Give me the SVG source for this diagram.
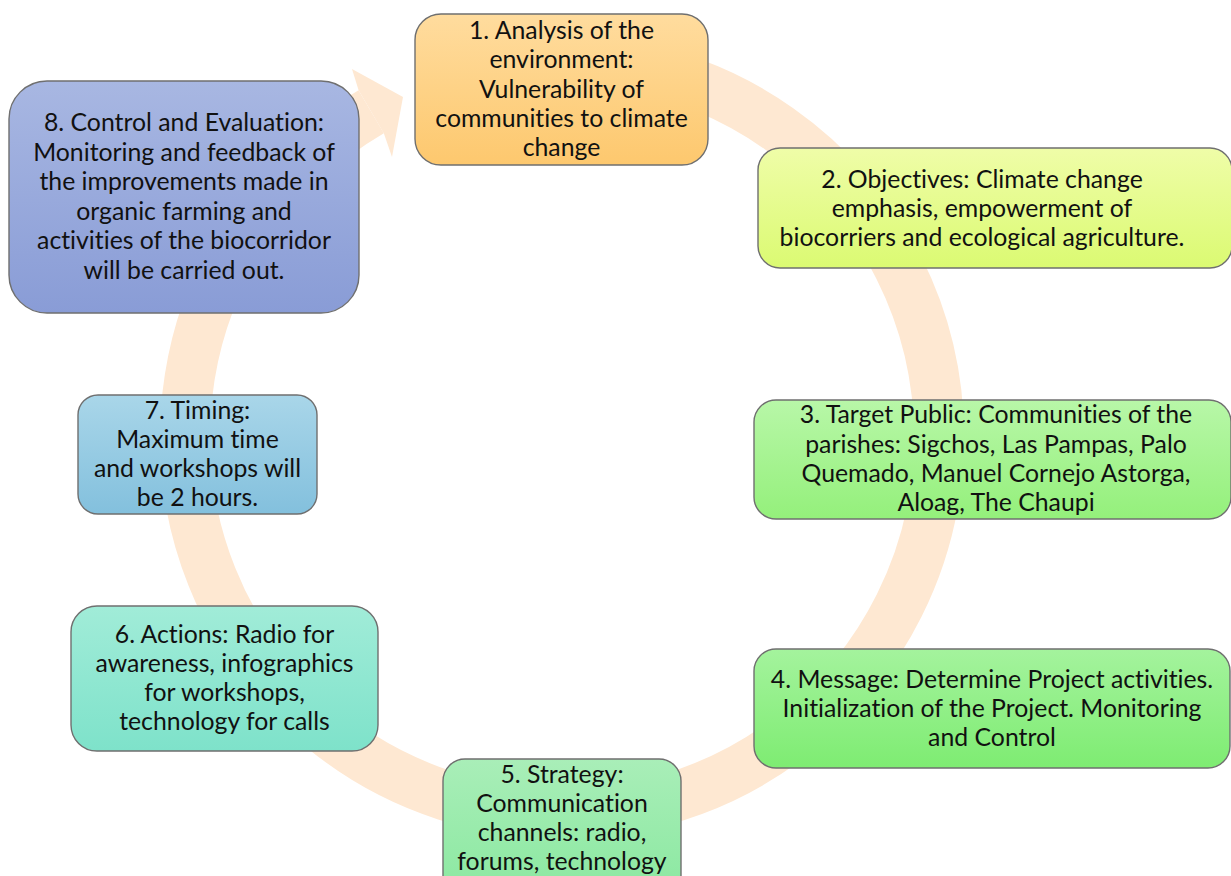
<svg xmlns="http://www.w3.org/2000/svg" width="1231" height="876" viewBox="0 0 1231 876">
  <defs>
    <linearGradient id="g1" x1="0" y1="0" x2="0" y2="1"><stop offset="0" stop-color="#FFDC9E"/><stop offset="1" stop-color="#FDC86E"/></linearGradient>
    <linearGradient id="g2" x1="0" y1="0" x2="0" y2="1"><stop offset="0" stop-color="#EFFDA8"/><stop offset="1" stop-color="#DBFA72"/></linearGradient>
    <linearGradient id="g3" x1="0" y1="0" x2="0" y2="1"><stop offset="0" stop-color="#B8F7A8"/><stop offset="1" stop-color="#94F07B"/></linearGradient>
    <linearGradient id="g4" x1="0" y1="0" x2="0" y2="1"><stop offset="0" stop-color="#A4F39D"/><stop offset="1" stop-color="#7EEC72"/></linearGradient>
    <linearGradient id="g5" x1="0" y1="0" x2="0" y2="1"><stop offset="0" stop-color="#A9EEB8"/><stop offset="1" stop-color="#8AE8A0"/></linearGradient>
    <linearGradient id="g6" x1="0" y1="0" x2="0" y2="1"><stop offset="0" stop-color="#A1ECD8"/><stop offset="1" stop-color="#7EE2CA"/></linearGradient>
    <linearGradient id="g7" x1="0" y1="0" x2="0" y2="1"><stop offset="0" stop-color="#A9D6E9"/><stop offset="1" stop-color="#83C0DD"/></linearGradient>
    <linearGradient id="g8" x1="0" y1="0" x2="0" y2="1"><stop offset="0" stop-color="#A8B7E2"/><stop offset="1" stop-color="#899CD6"/></linearGradient>
  </defs>
  <style>
    .box { stroke: #6F6F6F; stroke-width: 1.4; }
    .lbl { font-family: Lato, "Liberation Sans", sans-serif; font-size: 24.8px; fill: #111; text-anchor: middle; font-variant-ligatures: none; }
    .ring { fill: none; stroke: #FEE8D2; stroke-width: 50; }
    .head { fill: #FEE8D2; }
  </style>
  <rect width="1231" height="876" fill="#FFFFFF"/>

  <!-- circular cycle arrow behind the steps -->
  <g id="connectors">
    <path class="ring" d="M 627.5 65.7 A 377 377 0 1 1 371.2 111.8"/>
    <polygon class="head" points="358.6,90.3 352,69 403,97 392,157 383.9,133.4"/>
  </g>

  <g id="node1">
    <rect class="box" x="415" y="14" width="293" height="151" rx="26" fill="url(#g1)"/>
    <text class="lbl"><tspan x="561.5" y="39">1. Analysis of the</tspan><tspan x="561.5" y="68">environment:</tspan><tspan x="561.5" y="98">Vulnerability of</tspan><tspan x="561.5" y="127">communities to climate</tspan><tspan x="561.5" y="156">change</tspan></text>
  </g>

  <g id="node2">
    <rect class="box" x="758" y="148" width="474" height="120" rx="22" fill="url(#g2)"/>
    <text class="lbl"><tspan x="982" y="188">2. Objectives: Climate change</tspan><tspan x="982" y="217">emphasis, empowerment of</tspan><tspan x="982" y="246">biocorriers and ecological agriculture.</tspan></text>
  </g>

  <g id="node3">
    <rect class="box" x="754" y="400" width="477" height="119" rx="22" fill="url(#g3)"/>
    <text class="lbl"><tspan x="996" y="423">3. Target Public: Communities of the</tspan><tspan x="996" y="453">parishes: Sigchos, Las Pampas, Palo</tspan><tspan x="996" y="482">Quemado, Manuel Cornejo Astorga,</tspan><tspan x="996" y="511">Aloag, The Chaupi</tspan></text>
  </g>

  <g id="node4">
    <rect class="box" x="754" y="649" width="476" height="119" rx="22" fill="url(#g4)"/>
    <text class="lbl"><tspan x="992" y="688">4. Message: Determine Project activities.</tspan><tspan x="992" y="717">Initialization of the Project. Monitoring</tspan><tspan x="992" y="746">and Control</tspan></text>
  </g>

  <g id="node5">
    <rect class="box" x="443" y="759" width="238" height="140" rx="22" fill="url(#g5)"/>
    <text class="lbl"><tspan x="562" y="783">5. Strategy:</tspan><tspan x="562" y="812">Communication</tspan><tspan x="562" y="841">channels: radio,</tspan><tspan x="562" y="870">forums, technology</tspan></text>
  </g>

  <g id="node6">
    <rect class="box" x="71" y="606" width="307" height="145" rx="26" fill="url(#g6)"/>
    <text class="lbl"><tspan x="224.5" y="643">6. Actions: Radio for</tspan><tspan x="224.5" y="672">awareness, infographics</tspan><tspan x="224.5" y="701">for workshops,</tspan><tspan x="224.5" y="730">technology for calls</tspan></text>
  </g>

  <g id="node7">
    <rect class="box" x="78" y="395" width="239" height="119" rx="20" fill="url(#g7)"/>
    <text class="lbl"><tspan x="197.5" y="419">7. Timing:</tspan><tspan x="197.5" y="448">Maximum time</tspan><tspan x="197.5" y="477">and workshops will</tspan><tspan x="197.5" y="506">be 2 hours.</tspan></text>
  </g>

  <g id="node8">
    <rect class="box" x="9" y="81" width="350" height="232" rx="38" fill="url(#g8)"/>
    <text class="lbl"><tspan x="184" y="131">8. Control and Evaluation:</tspan><tspan x="184" y="161">Monitoring and feedback of</tspan><tspan x="184" y="190">the improvements made in</tspan><tspan x="184" y="220">organic farming and</tspan><tspan x="184" y="249">activities of the biocorridor</tspan><tspan x="184" y="279">will be carried out.</tspan></text>
  </g>
</svg>
